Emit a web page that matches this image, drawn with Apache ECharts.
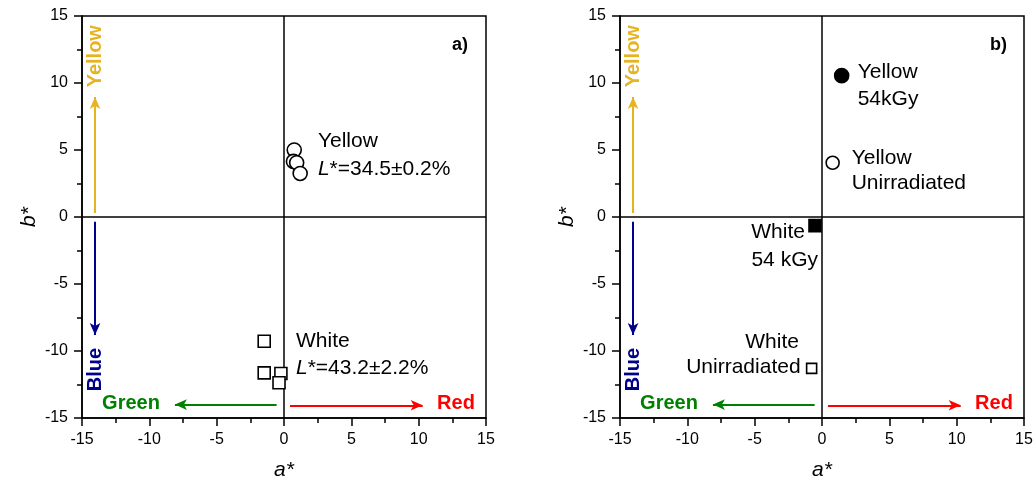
<!DOCTYPE html>
<html><head><meta charset="utf-8">
<script src="https://cdn.jsdelivr.net/npm/echarts@6/dist/echarts.min.js"></script>
<style>html,body{margin:0;padding:0;background:#fff}#c{width:1036px;height:486px}</style>
</head><body><div id="c"></div>
<script>
// ---- data ----
const ticks = [-15, -10, -5, 0, 5, 10, 15];
// panel a
const yellowA = [[0.76, 5.0], [0.70, 4.15], [0.94, 4.05], [1.2, 3.25]];
const whiteA = [[-1.47, -9.27], [-1.47, -11.63], [-0.23, -11.68], [-0.37, -12.37]];
// panel b
const yellow54 = [[1.46, 10.55]];
const yellowUnirr = [[0.79, 4.05]];
const white54 = [[-0.52, -0.64]];
const whiteUnirr = [[-0.77, -11.3]];
// annotation texts: [a, b, text, align]
const notesA = [
  [2.52, 5.62, 'Yellow', 'left'],
  [2.52, 3.58, '{i|L}*=34.5±0.2%', 'left'],
  [0.89, -9.27, 'White', 'left'],
  [0.89, -11.31, '{i|L}*=43.2±2.2%', 'left']
];
const notesB = [
  [2.65, 10.81, 'Yellow', 'left'],
  [2.65, 8.8, '54kGy', 'left'],
  [2.2, 4.4, 'Yellow', 'left'],
  [2.2, 2.54, 'Unirradiated', 'left'],
  [-1.27, -1.1, 'White', 'right'],
  [-0.30, -3.19, '54 kGy', 'right'],
  [-1.71, -9.37, 'White', 'right'],
  [-1.59, -11.23, 'Unirradiated', 'right']
];
// colour directions: [a, b, text, color, rotate]
const dirLabels = [
  [-14.03, 12.0, 'Yellow', '#E6B422', 90],
  [-14.03, -11.38, 'Blue', '#00008B', 90],
  [-11.36, -13.92, 'Green', '#008000', 0],
  [12.77, -13.92, 'Red', '#FF0000', 0]
];
// arrows: [a1, b1, a2(tip), b2(tip), color]
const arrows = [
  [-14.03, 0.3, -14.03, 8.95, '#E6B422'],
  [-14.03, -0.35, -14.03, -8.8, '#00008B'],
  [-0.55, -14.0, -8.1, -14.0, '#008000'],
  [0.44, -14.05, 10.3, -14.05, '#FF0000']
];
const panelTags = ['a)', 'b)'];

const FONT = 'Liberation Sans, Arial, sans-serif';
const grids = [
  {left: 82, top: 16, width: 404, height: 403},
  {left: 620, top: 16, width: 404, height: 403}
];

function xAxis(i) {
  return {
    gridIndex: i, type: 'value', min: -15, max: 15, interval: 5,
    name: 'a*', nameLocation: 'middle', nameGap: 42,
    nameTextStyle: {fontFamily: FONT, fontSize: 21, fontStyle: 'italic', color: '#000'},
    axisLine: {show: true, onZero: false, lineStyle: {color: '#000', width: 1.5}},
    axisTick: {show: true, inside: false, length: 8, lineStyle: {color: '#000', width: 1.5}},
    minorTick: {show: true, splitNumber: 2, length: 5, lineStyle: {color: '#000', width: 1.5}},
    axisLabel: {fontFamily: FONT, fontSize: 16, color: '#000', margin: 14},
    splitLine: {show: false}
  };
}
function yAxis(i) {
  return {
    gridIndex: i, type: 'value', min: -15, max: 15, interval: 5,
    name: 'b*', nameLocation: 'middle', nameGap: 42, nameRotate: 90,
    nameTextStyle: {fontFamily: FONT, fontSize: 21, fontStyle: 'italic', color: '#000'},
    axisLine: {show: true, onZero: false, lineStyle: {color: '#000', width: 1.5}},
    axisTick: {show: true, inside: false, length: 8, lineStyle: {color: '#000', width: 1.5}},
    minorTick: {show: true, splitNumber: 2, length: 5, lineStyle: {color: '#000', width: 1.5}},
    axisLabel: {fontFamily: FONT, fontSize: 16, color: '#000', margin: 14},
    splitLine: {show: false}
  };
}

function pointSeries(i, data, symbol, size, filled) {
  return {
    type: 'scatter', xAxisIndex: i, yAxisIndex: i, data: data, symbol: symbol, symbolSize: size,
    itemStyle: {color: filled ? '#000' : '#fff', borderColor: '#000', borderWidth: 1.6, opacity: 1},
    silent: true, z: 5
  };
}

function noteSeries(i, notes) {
  return {
    type: 'scatter', xAxisIndex: i, yAxisIndex: i, symbolSize: 0, silent: true, z: 6,
    itemStyle: {opacity: 1},
    data: notes.map(n => ({
      value: [n[0], n[1]],
      label: {
        show: true, position: n[3] === 'left' ? 'right' : 'left', distance: 0,
        formatter: n[2], fontFamily: FONT, fontSize: 21, color: '#000', opacity: 1,
        rich: {i: {fontFamily: FONT, fontSize: 21, fontStyle: 'italic', color: '#000'}}
      }
    }))
  };
}

function dirSeries(i) {
  return {
    type: 'scatter', xAxisIndex: i, yAxisIndex: i, symbolSize: 0, silent: true, z: 6,
    itemStyle: {opacity: 1},
    data: dirLabels.map(d => ({
      value: [d[0], d[1]],
      label: {
        show: true, position: 'inside', formatter: d[2], rotate: d[4], opacity: 1,
        fontFamily: FONT, fontSize: 20, fontWeight: 'bold', color: d[3]
      }
    })),
    markLine: {
      silent: true, animation: false, symbol: ['none', 'none'],
      label: {show: false},
      lineStyle: {color: '#000', width: 1.5, type: 'solid', opacity: 1},
      data: [
        {xAxis: 0}, {yAxis: 0}
      ].concat(arrows.map(a => [
        {coord: [a[0], a[1]], symbol: 'none', lineStyle: {color: a[4], width: 2, type: 'solid'}},
        {coord: [a[2], a[3]], symbol: 'arrow', symbolSize: [8, 12], lineStyle: {color: a[4], width: 2, type: 'solid'}}
      ]))
    }
  };
}

const chart = echarts.init(document.getElementById('c'), null, {renderer: 'canvas'});
chart.setOption({
  animation: false,
  backgroundColor: '#fff',
  grid: grids.map(g => Object.assign({show: true, borderColor: '#000', borderWidth: 1.5, backgroundColor: 'transparent'}, g)),
  xAxis: [xAxis(0), xAxis(1)],
  yAxis: [yAxis(0), yAxis(1)],
  title: [
    {text: panelTags[0], left: 447, top: 31, textStyle: {fontFamily: FONT, fontSize: 18, fontWeight: 'bold', color: '#000'}},
    {text: panelTags[1], left: 985, top: 31, textStyle: {fontFamily: FONT, fontSize: 18, fontWeight: 'bold', color: '#000'}}
  ],
  series: [
    dirSeries(0),
    pointSeries(0, yellowA, 'circle', 14, false),
    pointSeries(0, whiteA, 'rect', 12, false),
    noteSeries(0, notesA),
    dirSeries(1),
    pointSeries(1, yellow54, 'circle', 14, true),
    pointSeries(1, yellowUnirr, 'circle', 13, false),
    pointSeries(1, white54, 'rect', 12, true),
    pointSeries(1, whiteUnirr, 'rect', 10, false),
    noteSeries(1, notesB)
  ]
});
</script></body></html>
